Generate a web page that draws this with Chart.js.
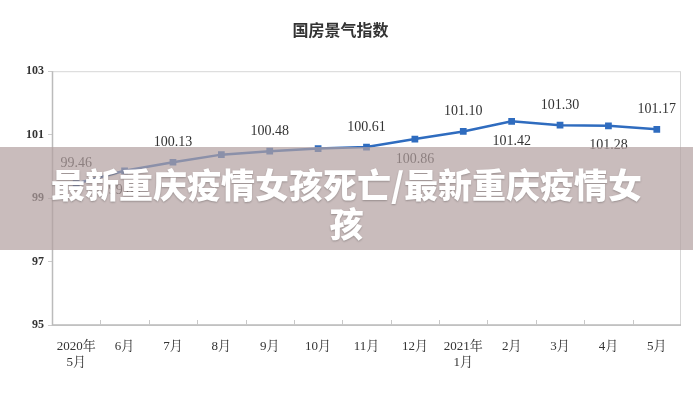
<!DOCTYPE html>
<html lang="zh">
<head>
  <meta charset="UTF-8" />
  <title>国房景气指数</title>
  <script src="https://cdn.jsdelivr.net/npm/chart.js"></script>
  <style>
    body {
      margin: 0;
      background: #fff;
    }

    .wrap {
      position: relative;
      width: 693px;
      height: 398px;
    }

    /* overlay banner across the chart */
    .banner {
      position: absolute;
      left: 0;
      top: 147px;
      width: 693px;
      height: 103px;
      background: rgba(178, 160, 160, 0.7);
      color: #fff;
      font-family: "Noto Sans CJK SC", sans-serif;
      font-weight: 900;
      font-size: 34px;
      line-height: 39px;
      text-align: center;
      padding-top: 17px;
      box-sizing: border-box;
      text-shadow: 0 1px 2px rgba(0,0,0,0.25);
    }
  </style>
</head>
<body>
  <div class="wrap">
    <canvas id="chart" width="693" height="398"></canvas>
    <div class="banner">最新重庆疫情女孩死亡/最新重庆疫情女<br>孩</div>
  </div>

  <script>
    const months = [
      ['2020年', '5月'], '6月', '7月', '8月', '9月', '10月', '11月', '12月',
      ['2021年', '1月'], '2月', '3月', '4月', '5月'
    ];
    const indexValues = [99.46, 99.86, 100.13, 100.37, 100.48, 100.56, 100.61, 100.86, 101.10, 101.42, 101.30, 101.28, 101.17];
    // which points carry a value label: 1 = above, -1 = below, 0 = none
    const labelSide = [1, -1, 1, 0, 1, 0, 1, -1, 1, -1, 1, -1, 1];
    const yTicks = [95, 97, 99, 101, 103];

    const serif = "'Liberation Serif', 'Noto Serif CJK SC', 'Noto Sans CJK SC', serif";

    // plot frame + small x tick marks between categories
    const framePlugin = {
      id: 'frame',
      beforeDatasetsDraw(chart) {
        const { ctx, chartArea: a, scales } = chart;
        ctx.save();
        ctx.strokeStyle = '#d6d6d6';
        ctx.lineWidth = 1;
        ctx.strokeRect(a.left + 0.5, a.top + 0.5, a.right - a.left - 1, a.bottom - a.top);
        ctx.strokeStyle = '#bbbbbb';
        ctx.lineWidth = 1.5;
        ctx.beginPath();
        ctx.moveTo(a.left + 0.5, a.top);
        ctx.lineTo(a.left + 0.5, a.bottom);
        ctx.lineTo(a.right, a.bottom);
        ctx.stroke();
        ctx.lineWidth = 1;
        ctx.strokeStyle = '#c8c8c8';
        const x = scales.x;
        for (let i = 0; i < months.length - 1; i++) {
          const px = Math.round((x.getPixelForTick(i) + x.getPixelForTick(i + 1)) / 2) + 0.5;
          ctx.beginPath();
          ctx.moveTo(px, a.bottom);
          ctx.lineTo(px, a.bottom - 5);
          ctx.stroke();
        }
        ctx.restore();
      }
    };

    // value labels above / below the line
    const labelPlugin = {
      id: 'valueLabels',
      afterDatasetsDraw(chart) {
        const { ctx } = chart;
        const meta = chart.getDatasetMeta(0);
        ctx.save();
        ctx.font = '14px ' + serif;
        ctx.fillStyle = '#333';
        ctx.textAlign = 'center';
        ctx.textBaseline = 'middle';
        meta.data.forEach((pt, i) => {
          if (!labelSide[i]) return;
          ctx.fillText(indexValues[i].toFixed(2), pt.x, pt.y - 20 * labelSide[i]);
        });
        ctx.restore();
      }
    };

    new Chart(document.getElementById('chart'), {
      type: 'line',
      data: {
        labels: months,
        datasets: [{
          data: indexValues,
          borderColor: '#2f6cbf',
          backgroundColor: '#2f6cbf',
          borderWidth: 2.5,
          pointStyle: 'rect',
          pointRadius: 3,
          tension: 0
        }]
      },
      options: {
        responsive: false,
        animation: false,
        layout: { padding: { left: 0, right: 12, top: 0, bottom: 0 } },
        plugins: {
          legend: { display: false },
          tooltip: { enabled: false },
          title: {
            display: true,
            text: '国房景气指数',
            color: '#333',
            font: { family: "'Noto Sans CJK SC', sans-serif", size: 16, weight: 'bold' },
            padding: { top: 20, bottom: 32 }
          }
        },
        scales: {
          x: {
            offset: true,
            grid: { display: false },
            border: { display: false },
            ticks: {
              color: '#333',
              font: { family: serif, size: 13 },
              maxRotation: 0,
              autoSkip: false,
              padding: 6
            },
            afterFit(s) { s.height = 73; }
          },
          y: {
            min: 95,
            max: 103,
            afterBuildTicks(s) { s.ticks = yTicks.map(v => ({ value: v })); },
            grid: { drawOnChartArea: false, tickLength: 4, color: '#cccccc' },
            border: { display: false },
            ticks: {
              color: '#333',
              font: { family: serif, size: 12, weight: 'bold' },
              padding: 4
            },
            afterFit(s) { s.width = 52; }
          }
        }
      },
      plugins: [framePlugin, labelPlugin]
    });
  </script>
</body>
</html>
